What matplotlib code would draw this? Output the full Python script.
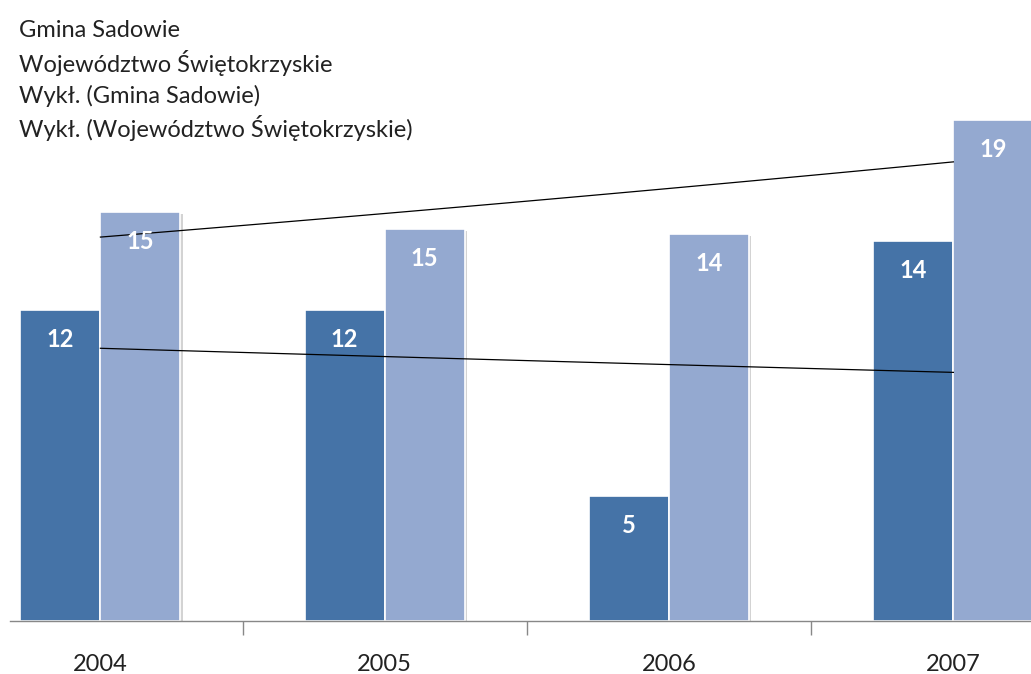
import numpy as np
import matplotlib
matplotlib.use("Agg")
import matplotlib.pyplot as plt
import matplotlib.patheffects as pe

years = ["2004", "2005", "2006", "2007"]
gmina = [11.56, 11.56, 4.65, 14.13]
woj = [15.2, 14.57, 14.39, 18.62]
series_names = ["Gmina Sadowie", "Województwo Świętokrzyskie"]
trend_names = ["Wykł. (Gmina Sadowie)", "Wykł. (Województwo Świętokrzyskie)"]

plt.rcParams['font.family'] = ['Lato', 'DejaVu Sans']

W, H = 1031, 674
fig = plt.figure(figsize=(W / 100, H / 100), dpi=100)
ax = fig.add_axes([10 / W, 53 / H, 1 - 10 / W, 1 - 53 / H])

x = np.arange(len(years))
bw = 0.2814
c1, c2 = "#4573A7", "#94A9D0"
shadow = [pe.SimplePatchShadow(offset=(1.5, -1.5), shadow_rgbFace="#c8c8c8", alpha=0.8), pe.Normal()]
b1 = ax.bar(x - bw / 2, gmina, bw, color=c1, edgecolor="white", linewidth=1.2, path_effects=shadow, zorder=2)
b2 = ax.bar(x + bw / 2, woj, bw, color=c2, edgecolor="white", linewidth=1.2, path_effects=shadow, zorder=2)

for bars, vals in ((b1, gmina), (b2, woj)):
    for r, v in zip(bars, vals):
        ax.annotate(f"{v:.0f}", (r.get_x() + r.get_width() / 2, v), xytext=(0, -21),
                    textcoords="offset points", ha="center", va="center",
                    color="white", fontsize=17, fontweight="bold", zorder=4)

# exponential trendlines
xs = np.linspace(0, 3, 50)
trend_lines = []
for vals in (gmina, woj):
    k, b = np.polyfit(x + 1, np.log(vals), 1)
    ln, = ax.plot(xs, np.exp(b + k * (xs + 1)), color="black", linewidth=0.9, zorder=3)
    trend_lines.append(ln)

ax.set_xlim(-0.318, 3.273)
ax.set_ylim(0, 621 / 26.9)
for s in ("top", "right", "left"):
    ax.spines[s].set_visible(False)
ax.spines["bottom"].set_color("#888888")
ax.spines["bottom"].set_linewidth(1.0)
ax.set_yticks([])
ax.set_xticks(x)
ax.set_xticklabels(years, fontsize=17, color="#222222")
ax.tick_params(axis="x", which="major", length=0, pad=24)
ax.set_xticks([0.5, 1.5, 2.5], minor=True)
ax.tick_params(axis="x", which="minor", length=10, color="#888888", width=1.0, direction="out")

leg = fig.legend([b1, b2] + trend_lines, series_names + trend_names,
                 loc="upper left", bbox_to_anchor=(12 / W, 1 - 20 / H), frameon=False,
                 fontsize=17, handlelength=0, handletextpad=0.3, labelspacing=0.37,
                 borderaxespad=0, borderpad=0)
for t in leg.get_texts():
    t.set_color("#222222")

fig.savefig("out.png", dpi=100)
